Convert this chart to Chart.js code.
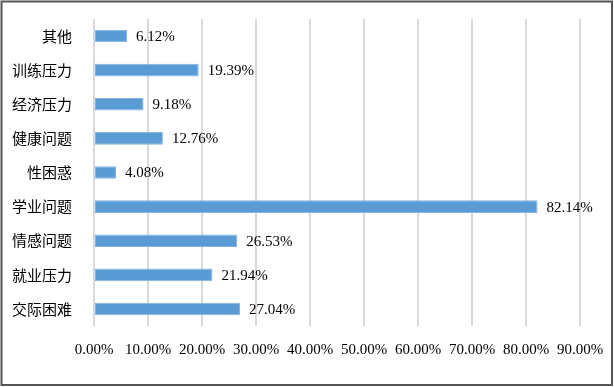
<!DOCTYPE html>
<html lang="zh">
<head>
  <meta charset="UTF-8">
  <title>问题分布</title>
  <script src="https://cdn.jsdelivr.net/npm/chart.js"></script>
  <style>
    body { margin: 0; background: #fff; }
    canvas { display: block; }
  </style>
</head>
<body>
  <canvas id="issueChart" width="614" height="387"></canvas>

  <script>
    const categories = ['其他', '训练压力', '经济压力', '健康问题', '性困惑', '学业问题', '情感问题', '就业压力', '交际困难'];
    const shares = [6.12, 19.39, 9.18, 12.76, 4.08, 82.14, 26.53, 21.94, 27.04];
    const xTicks = [0, 10, 20, 30, 40, 50, 60, 70, 80, 90];

    const numFont = '"Liberation Serif", "Times New Roman", serif';

    // white background + dark frame around the whole picture
    const framePlugin = {
      id: 'frame',
      beforeDraw(chart) {
        const ctx = chart.ctx;
        ctx.save();
        ctx.fillStyle = '#fff';
        ctx.fillRect(0, 0, chart.width, chart.height);
        ctx.strokeStyle = '#555';
        ctx.lineWidth = 2;
        ctx.strokeRect(1.5, 1.5, 610.5, 383.5);
        ctx.restore();
      }
    };

    // value labels to the right of each bar
    const valueLabels = {
      id: 'valueLabels',
      afterDatasetsDraw(chart) {
        const ctx = chart.ctx;
        const meta = chart.getDatasetMeta(0);
        ctx.save();
        ctx.font = '15px ' + numFont;
        ctx.fillStyle = '#000';
        ctx.textAlign = 'left';
        ctx.textBaseline = 'middle';
        meta.data.forEach((bar, i) => {
          ctx.fillText(shares[i].toFixed(2) + '%', bar.x + 9, bar.y + 1);
        });
        ctx.restore();
      }
    };

    new Chart(document.getElementById('issueChart'), {
      type: 'bar',
      data: {
        labels: categories,
        datasets: [{
          data: shares,
          backgroundColor: '#5b9bd5',
          borderColor: '#86b4e2',
          borderWidth: 1,
          borderSkipped: false,
          categoryPercentage: 1,
          barPercentage: 0.37
        }]
      },
      options: {
        indexAxis: 'y',
        responsive: false,
        animation: false,
        layout: { padding: { top: 19, right: 34, bottom: 0, left: 0 } },
        scales: {
          x: {
            min: 0,
            max: 90,
            afterBuildTicks: s => { s.ticks = xTicks.map(v => ({ value: v })); },
            // pin the plot area: no extra room for edge labels
            afterFit: s => { s.height = 61; s.paddingLeft = 0; s.paddingRight = 0; },
            grid: { color: '#d9d9d9', lineWidth: 2, drawTicks: false },
            border: { display: false },
            ticks: {
              padding: 15,
              color: '#000',
              font: { family: numFont, size: 15 },
              maxRotation: 0,
              callback: v => v.toFixed(2) + '%'
            }
          },
          y: {
            afterFit: s => { s.width = 94; s.paddingTop = 0; s.paddingBottom = 0; },
            grid: { display: false },
            border: { display: false },
            ticks: {
              padding: 14,
              color: '#000',
              font: { family: '"Noto Sans CJK SC", sans-serif', size: 15 }
            }
          }
        },
        plugins: {
          legend: { display: false },
          tooltip: { enabled: false }
        }
      },
      plugins: [framePlugin, valueLabels]
    });
  </script>
</body>
</html>
